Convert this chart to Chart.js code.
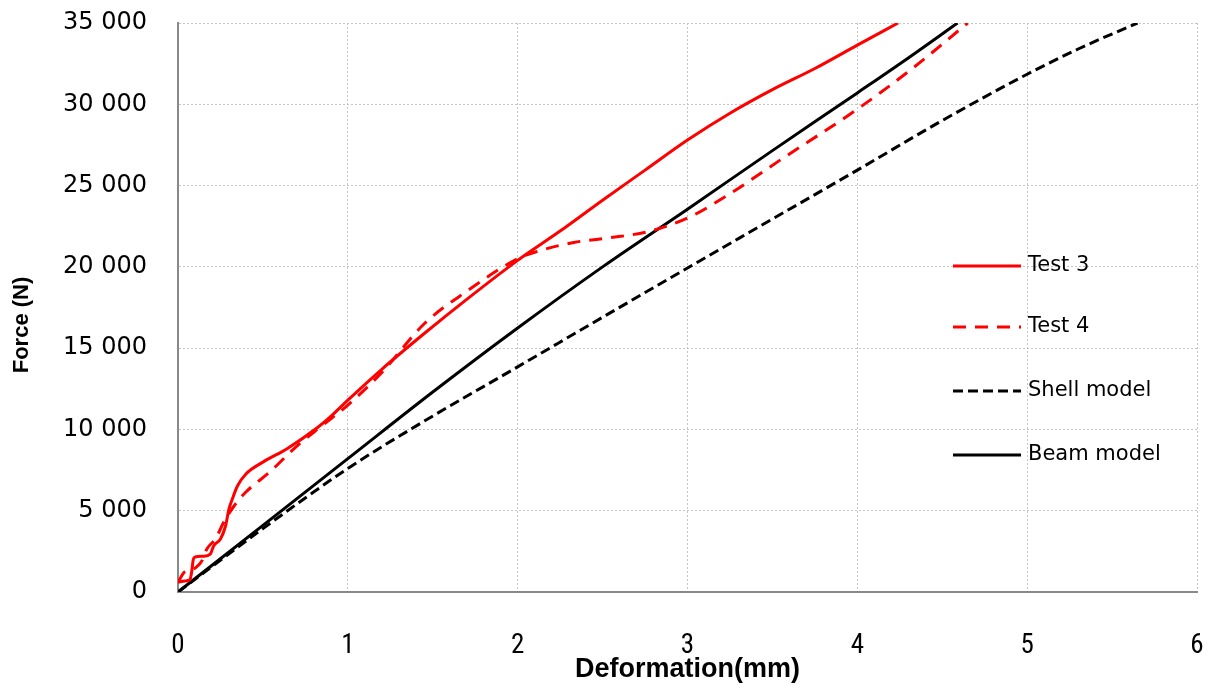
<!DOCTYPE html>
<html>
<head>
<meta charset="utf-8">
<script src="https://cdn.jsdelivr.net/npm/chart.js@4"></script>
<style>
	html, body { margin: 0; padding: 0; background: #fff; }
	#wrap { width: 1216px; height: 688px; }
</style>
</head>
<body>
<div id="wrap"><canvas id="force-chart"></canvas></div>
<script>
// deformation (mm) / force (N) pairs per curve
const test3X = [0, 0.04, 0.07, 0.08, 0.09, 0.1, 0.15, 0.19, 0.21, 0.25, 0.28, 0.3, 0.32, 0.35, 0.4, 0.5, 0.64, 0.82, 0.9, 1.0, 1.2, 1.45, 1.7, 2.0, 2.25, 2.5, 2.75, 3.0, 3.25, 3.5, 3.75, 4.0, 4.24]
const test3Y = [600, 680, 750, 1200, 2000, 2150, 2200, 2330, 2830, 3260, 4060, 5100, 5720, 6520, 7260, 7990, 8800, 10100, 10800, 11800, 13700, 15900, 18000, 20400, 22200, 24100, 25950, 27800, 29450, 30900, 32200, 33640, 35000]

const test4X = [0, 0.04, 0.08, 0.11, 0.14, 0.17, 0.22, 0.27, 0.33, 0.4, 0.54, 0.7, 0.85, 1.0, 1.2, 1.45, 1.7, 2.0, 2.1, 2.33, 2.55, 2.76, 3.0, 3.25, 3.55, 4.0, 4.33, 4.65]
const test4Y = [600, 1250, 1350, 1550, 1900, 2650, 3260, 4300, 5290, 6150, 7380, 8980, 10250, 11500, 13500, 16500, 18500, 20500, 20900, 21500, 21800, 22150, 23000, 24500, 26600, 29700, 32250, 35000]

const shellX = [0, 0.5, 1.0, 1.44, 2.0, 2.5, 3.0, 3.31, 4.0, 4.5, 5.0, 5.3, 5.65]
const shellY = [0, 3900, 7600, 10450, 13850, 16900, 19930, 21800, 25950, 29000, 31850, 33400, 35000]

const beamX = [0, 0.5, 1.0, 1.5, 2.0, 2.5, 3.0, 3.5, 4.0, 4.3, 4.59]
const beamY = [0, 4100, 8200, 12300, 16240, 20000, 23550, 27150, 30700, 32850, 35000]

const xTicks = [0, 1, 2, 3, 4, 5, 6]
const yTicks = [0, 5000, 10000, 15000, 20000, 25000, 30000, 35000]

const toPoints = (xs, ys) => xs.map((x, i) => { return { x: x, y: ys[i] } })

const formatThousands = v => {
	const s = String(Math.round(v))
	return s.length > 3 ? s.slice(0, -3) + ' ' + s.slice(-3) : s
}

// legend drawn inside the plot, to the right
const sideLegend = {
	id: 'sideLegend',
	afterDatasetsDraw(chart) {
		const ctx = chart.ctx
		const rows = [266, 327, 391, 455]
		ctx.save()
		ctx.font = '21px "DejaVu Sans"'
		ctx.textBaseline = 'middle'
		ctx.fillStyle = '#000'
		chart.data.datasets.forEach((ds, i) => {
			const y = rows[i]
			ctx.beginPath()
			ctx.strokeStyle = ds.borderColor
			ctx.lineWidth = ds.borderWidth
			ctx.setLineDash(ds.borderDash || [])
			ctx.moveTo(953, y)
			ctx.lineTo(1021, y)
			ctx.stroke()
			ctx.setLineDash([])
			ctx.fillText(ds.label, 1028, y)
		})
		ctx.restore()
	}
}

// y axis title, placed a little below the middle of the axis
const forceTitle = {
	id: 'forceTitle',
	afterDraw(chart) {
		const ctx = chart.ctx
		ctx.save()
		ctx.translate(22, 325)
		ctx.rotate(-Math.PI / 2)
		ctx.font = 'bold 22px "Liberation Sans"'
		ctx.fillStyle = '#000'
		ctx.textAlign = 'center'
		ctx.textBaseline = 'middle'
		ctx.fillText('Force (N)', 0, 0)
		ctx.restore()
	}
}

const ctxForce = document.getElementById('force-chart')
const forceChart = new Chart(ctxForce, {
	type: 'scatter',
	data: {
		datasets: [{
			label: 'Test 3',
			data: toPoints(test3X, test3Y),
			borderColor: '#ff0000',
			borderWidth: 3
		},
		{
			label: 'Test 4',
			data: toPoints(test4X, test4Y),
			borderColor: '#ff0000',
			borderWidth: 3,
			borderDash: [13, 9]
		},
		{
			label: 'Shell model',
			data: toPoints(shellX, shellY),
			borderColor: '#000000',
			borderWidth: 3,
			borderDash: [10, 5]
		},
		{
			label: 'Beam model',
			data: toPoints(beamX, beamY),
			borderColor: '#000000',
			borderWidth: 3
		}]
	},
	options: {
		responsive: true,
		maintainAspectRatio: false,
		animation: false,
		showLine: true,
		elements: {
			point: { radius: 0, hoverRadius: 0 },
			line: { tension: 0.3, cubicInterpolationMode: 'monotone', fill: false }
		},
		layout: { padding: { top: 23, right: 19, left: 0, bottom: 0 } },
		scales: {
			x: {
				type: 'linear',
				min: 0,
				max: 6,
				afterBuildTicks: scale => { scale.ticks = xTicks.map(v => ({ value: v })) },
				afterFit: scale => {
					scale.height = 96
					scale.paddingLeft = 0
					scale.paddingRight = 0
				},
				grid: { color: '#c4c4c4', drawTicks: false },
				border: { color: '#898989', width: 2, dash: [2, 2] },
				ticks: {
					padding: 38,
					color: '#000',
					font: { family: '"Liberation Sans Narrow", "Roboto Condensed", "Liberation Sans"', size: 27 }
				},
				title: {
					display: true,
					text: 'Deformation(mm)',
					color: '#000',
					padding: { top: 0, bottom: 2 },
					font: { family: '"Liberation Sans Narrow", "Liberation Sans"', size: 27, weight: 'bold' }
				}
			},
			y: {
				type: 'linear',
				min: 0,
				max: 35000,
				afterBuildTicks: scale => { scale.ticks = yTicks.map(v => ({ value: v })) },
				afterFit: scale => {
					scale.width = 178
					scale.paddingTop = 0
					scale.paddingBottom = 0
				},
				grid: { color: '#c4c4c4', drawTicks: false },
				border: { color: '#898989', width: 2, dash: [2, 2] },
				ticks: {
					padding: 31,
					color: '#000',
					font: { family: '"DejaVu Sans"', size: 24 },
					callback: v => formatThousands(v)
				}
			}
		},
		plugins: {
			legend: { display: false },
			tooltip: { enabled: false }
		}
	},
	plugins: [sideLegend, forceTitle]
})
</script>
</body>
</html>
